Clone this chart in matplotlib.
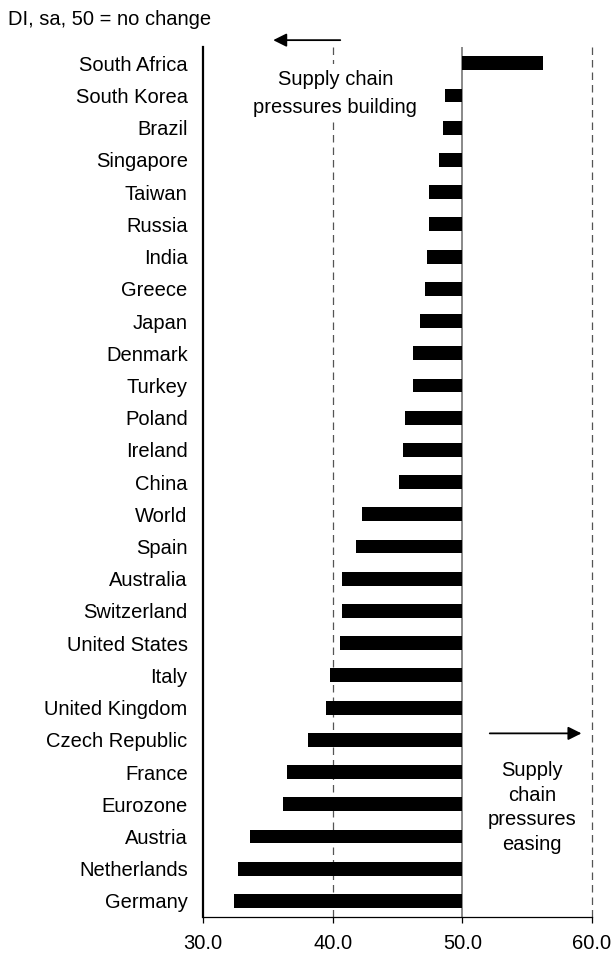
import numpy as np
import matplotlib
matplotlib.use("Agg")
import matplotlib.pyplot as plt

plt.rcParams["font.family"] = ["Liberation Sans", "DejaVu Sans"]

countries = [
    "South Africa", "South Korea", "Brazil", "Singapore", "Taiwan", "Russia",
    "India", "Greece", "Japan", "Denmark", "Turkey", "Poland", "Ireland",
    "China", "World", "Spain", "Australia", "Switzerland", "United States",
    "Italy", "United Kingdom", "Czech Republic", "France", "Eurozone",
    "Austria", "Netherlands", "Germany",
]
values = [
    56.2, 48.7, 48.5, 48.2, 47.4, 47.4,
    47.3, 47.1, 46.7, 46.2, 46.2, 45.6, 45.4,
    45.1, 42.3, 41.8, 40.7, 40.7, 40.6,
    39.8, 39.5, 38.1, 36.5, 36.2,
    33.6, 32.7, 32.4,
]
x_ticks = [30.0, 40.0, 50.0, 60.0]
baseline = 50.0


def main():
    fig = plt.figure(figsize=(6.14, 9.6), dpi=100)
    ax = fig.add_axes([0.3306, 0.0448, 0.6336, 0.906])

    y = np.arange(len(countries))
    vals = np.array(values)

    # reference lines
    ax.axvline(50, color="#808080", lw=1.3, zorder=1)
    for xv in (40, 60):
        ax.axvline(xv, color="#555555", lw=0.9, ls=(0, (6, 4)), zorder=1, clip_on=False)

    ax.barh(y, vals - baseline, left=baseline, height=0.43, color="black", zorder=3)

    ax.set_xlim(30, 60)
    ax.set_ylim(len(countries) - 0.5, -0.5)
    ax.set_xticks(x_ticks)
    ax.set_xticklabels([f"{t:.1f}" for t in x_ticks])
    ax.set_yticks(y)
    ax.set_yticklabels(countries)

    ax.tick_params(axis="y", length=0, pad=11, labelsize=14.5)
    ax.tick_params(axis="x", length=4.5, width=0.9, direction="out", pad=8, labelsize=14.5)

    for side in ("top", "right"):
        ax.spines[side].set_visible(False)
    ax.spines["left"].set_linewidth(1.6)
    ax.spines["bottom"].set_linewidth(0.9)

    # annotations
    ax.annotate("", xy=(35.2, -0.72), xytext=(40.8, -0.72),
                arrowprops=dict(arrowstyle="-|>", color="black", lw=1.3,
                                mutation_scale=20),
                annotation_clip=False)
    ax.text(40.2, 0.93, "Supply chain\npressures building", ha="center", va="center",
            fontsize=14.5, linespacing=1.6, zorder=4,
            bbox=dict(facecolor="white", edgecolor="none", pad=4))

    ax.annotate("", xy=(59.4, 20.8), xytext=(51.9, 20.8),
                arrowprops=dict(arrowstyle="-|>", color="black", lw=1.3,
                                mutation_scale=20),
                annotation_clip=False)
    ax.text(55.4, 23.1, "Supply\nchain\npressures\neasing", ha="center", va="center",
            fontsize=14.5, linespacing=1.38, zorder=4)

    fig.text(0.013, 0.98, "DI, sa, 50 = no change", ha="left", va="center", fontsize=14.5)

    fig.savefig("out.png", dpi=100)


if __name__ == "__main__":
    main()
